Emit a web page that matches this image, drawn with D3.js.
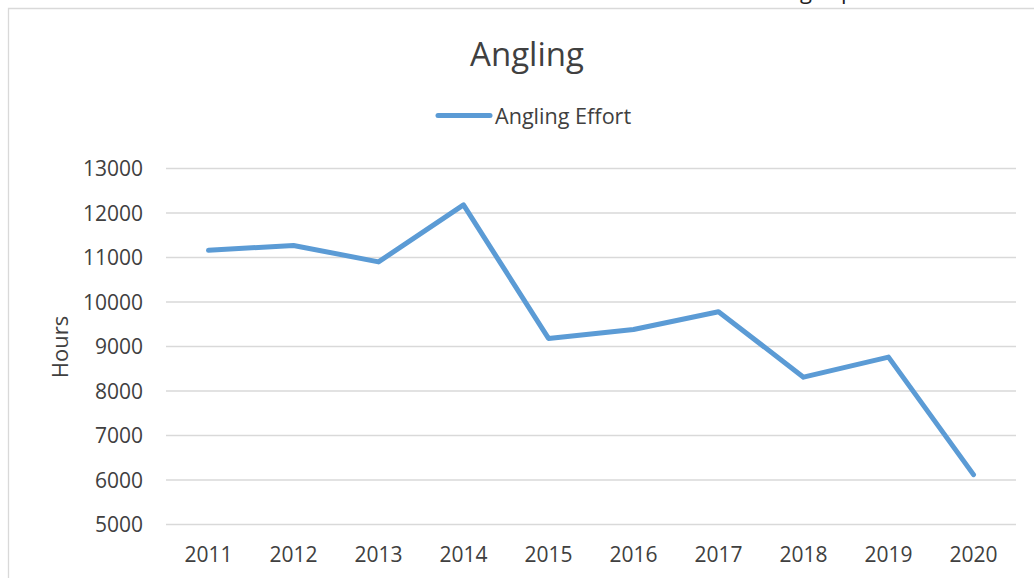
<!DOCTYPE html>
<html>
<head>
<meta charset="utf-8">
<script src="https://cdn.jsdelivr.net/npm/d3@7"></script>
<style>
  html, body { margin: 0; padding: 0; background: #fff; }
  svg { display: block; font-family: "Open Sans", sans-serif; }
</style>
</head>
<body>
<svg id="chart" width="1034" height="578"></svg>
<script>
// Annual angling effort (hours)
const years = ["2011", "2012", "2013", "2014", "2015", "2016", "2017", "2018", "2019", "2020"];
const effortHours = [11150, 11260, 10890, 12170, 9170, 9370, 9770, 8300, 8750, 6110];
const yTicks = [5000, 6000, 7000, 8000, 9000, 10000, 11000, 12000, 13000];
const seriesName = "Angling Effort";
const chartTitle = "Angling";
const yTitle = "Hours";

const svg = d3.select("#chart");
const W = 1034, H = 578;
const plot = { left: 166, right: 1016, top: 168, bottom: 524 };
const lineColor = "#5b9bd5";
const textColor = "#404040";

svg.append("rect").attr("width", W).attr("height", H).attr("fill", "#fff");

// descenders of the heading line that sits just above the chart frame
svg.append("text").attr("x", 800).attr("y", -1).attr("font-size", 22).attr("fill", "#222").text("g");
svg.append("text").attr("x", 841).attr("y", -1).attr("font-size", 22).attr("fill", "#222").text("p");

// chart frame
svg.append("path")
  .attr("d", `M8.5,${H} V8.5 H${W}`)
  .attr("fill", "none").attr("stroke", "#d9d9d9").attr("stroke-width", 1.3);

const x = d3.scaleBand().domain(years).range([plot.left, plot.right]).padding(0);
const y = d3.scaleLinear().domain([5000, 13000]).range([plot.bottom, plot.top]);

// gridlines + y labels
const yAxis = d3.axisLeft(y).tickValues(yTicks).tickSize(-(plot.right - plot.left)).tickPadding(23).tickFormat(d3.format("d"));
const gy = svg.append("g").attr("transform", `translate(${plot.left},0)`).call(yAxis);
gy.select(".domain").remove();
gy.selectAll(".tick line").attr("stroke", "#d9d9d9").attr("stroke-width", 1.3);
gy.selectAll(".tick text").attr("font-size", 21).attr("fill", textColor)
  .attr("font-family", "Open Sans, sans-serif").attr("dy", "0.36em");

// x labels
const xAxis = d3.axisBottom(x).tickSize(0).tickPadding(0);
const gx = svg.append("g").attr("transform", `translate(0,${plot.bottom})`).call(xAxis);
gx.select(".domain").remove();
gx.selectAll(".tick text").attr("font-size", 21).attr("fill", textColor)
  .attr("font-family", "Open Sans, sans-serif").attr("dy", 0).attr("y", 38);

// series line
const line = d3.line()
  .x((d, i) => x(years[i]) + x.bandwidth() / 2)
  .y(d => y(d));
svg.append("path")
  .datum(effortHours)
  .attr("d", line)
  .attr("fill", "none")
  .attr("stroke", lineColor)
  .attr("stroke-width", 5)
  .attr("stroke-linejoin", "round")
  .attr("stroke-linecap", "round");

// title
svg.append("text")
  .attr("x", (471 + 583) / 2).attr("y", 66)
  .attr("text-anchor", "middle").attr("font-size", 33).attr("fill", textColor)
  .text(chartTitle);

// legend
svg.append("line")
  .attr("x1", 438).attr("x2", 490).attr("y1", 115.5).attr("y2", 115.5)
  .attr("stroke", lineColor).attr("stroke-width", 5).attr("stroke-linecap", "round");
svg.append("text")
  .attr("x", 495).attr("y", 124)
  .attr("font-size", 21.6).attr("fill", textColor)
  .text(seriesName);

// y axis title
svg.append("text")
  .attr("transform", "translate(68,347) rotate(-90)")
  .attr("text-anchor", "middle").attr("font-size", 22).attr("fill", textColor)
  .text(yTitle);
</script>
</body>
</html>
